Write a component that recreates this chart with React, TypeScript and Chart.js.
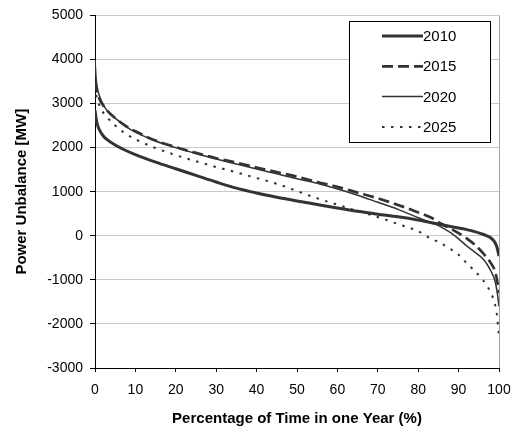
import React, { useEffect, useRef } from "react";
import { Chart, registerables } from "chart.js";

Chart.register(...registerables);

const percentTime = [0, 0.3, 0.6, 1, 2, 3, 5, 7.5, 10, 15, 20, 25, 30, 35, 40, 45, 50, 55, 60, 65, 70, 75, 80, 83, 85, 88, 90, 92, 94, 96, 97, 98, 99, 99.5, 100];

const y2010 = [2850, 2650, 2520, 2420, 2270, 2180, 2060, 1940, 1840, 1670, 1520, 1370, 1220, 1080, 970, 875, 790, 710, 630, 555, 490, 430, 355, 300, 265, 210, 175, 140, 95, 35, 0, -50, -150, -260, -460];
const y2015 = [3500, 3350, 3230, 3120, 2960, 2840, 2670, 2500, 2370, 2160, 2010, 1880, 1760, 1660, 1550, 1445, 1340, 1220, 1110, 980, 850, 700, 530, 420, 310, 160, 60, -60, -200, -390, -500, -620, -800, -1000, -1300];
const y2020 = [4000, 3550, 3350, 3200, 2980, 2840, 2670, 2490, 2350, 2150, 2000, 1865, 1740, 1630, 1515, 1405, 1295, 1190, 1060, 920, 760, 600, 410, 300, 230, 70, -70, -230, -370, -520, -640, -800, -1020, -1250, -1600];
const y2025 = [3400, 3200, 3080, 2980, 2800, 2690, 2500, 2320, 2190, 1990, 1830, 1690, 1560, 1440, 1310, 1180, 1015, 850, 705, 560, 425, 265, 105, -60, -140, -300, -430, -620, -800, -1000, -1130, -1300, -1550, -1800, -2300];

const seriesNames = ["2010", "2015", "2020", "2025"];
const xTitle = "Percentage of Time in one Year (%)";
const yTitle = "Power Unbalance [MW]";

const FONT = "'Liberation Sans', Arial, sans-serif";
const LINE = "#333333";

const toPoints = (ys: number[]) => percentTime.map((x, i) => ({ x, y: ys[i] }));

const legendPlugin = {
  id: "boxLegend",
  afterDraw(chart: any) {
    const ctx = chart.ctx;
    const left = 349, top = 21, w = 141, h = 121;
    ctx.save();
    ctx.fillStyle = "#ffffff";
    ctx.fillRect(left, top, w, h);
    ctx.strokeStyle = "#000000";
    ctx.lineWidth = 1;
    ctx.setLineDash([]);
    ctx.strokeRect(left + 0.5, top + 0.5, w, h);
    chart.data.datasets.forEach((ds: any, i: number) => {
      const y = 36 + i * 30.3;
      ctx.beginPath();
      ctx.strokeStyle = ds.borderColor;
      ctx.lineWidth = ds.borderWidth;
      ctx.setLineDash(ds.borderDash || []);
      ctx.moveTo(382, y);
      ctx.lineTo(423, y);
      ctx.stroke();
      ctx.setLineDash([]);
      ctx.fillStyle = "#000000";
      ctx.font = `15px ${FONT}`;
      ctx.textAlign = "left";
      ctx.textBaseline = "middle";
      ctx.fillText(ds.label, 423, y + 1);
    });
    ctx.restore();
  },
};

export default function App() {
  const ref = useRef<HTMLCanvasElement>(null);
  useEffect(() => {
    if (!ref.current) return;
    const styles = [
      { width: 3, dash: [] as number[] },
      { width: 2.7, dash: [11, 5] },
      { width: 1.5, dash: [] as number[] },
      { width: 2, dash: [2.5, 6.5] },
    ];
    const all = [y2010, y2015, y2020, y2025];
    const chart = new Chart(ref.current, {
      type: "line",
      data: {
        datasets: all.map((ys, i) => ({
          label: seriesNames[i],
          data: toPoints(ys),
          borderColor: LINE,
          borderWidth: styles[i].width,
          borderDash: styles[i].dash,
          pointRadius: 0,
          fill: false,
          cubicInterpolationMode: "monotone" as const,
        })),
      },
      options: {
        animation: false,
        responsive: false,
        devicePixelRatio: 1,
        layout: { padding: { left: 0, right: 18, top: 14, bottom: 0 } },
        plugins: { legend: { display: false }, tooltip: { enabled: false } },
        scales: {
          x: {
            type: "linear",
            min: 0,
            max: 100,
            afterFit: (s: any) => { s.height = 62; s.paddingRight = 0; s.paddingLeft = 0; },
            ticks: { stepSize: 10, color: "#000", font: { family: FONT, size: 14 }, padding: 10, maxRotation: 0 },
            grid: {
              color: (c: any) => (c.tick && c.tick.value === 100 ? "#a0a0a0" : "rgba(0,0,0,0)"),
              tickColor: "#000",
              tickLength: 4,
            },
            border: { color: "#000", width: 1 },
            title: { display: true, text: xTitle, color: "#000", font: { family: FONT, size: 15, weight: "bold" }, padding: { top: 0, bottom: 2 } },
          },
          y: {
            min: -3000,
            max: 5000,
            afterFit: (s: any) => { s.width = 95; },
            ticks: { stepSize: 1000, color: "#000", font: { family: FONT, size: 14 }, padding: 7, callback: (v: any) => String(v) },
            grid: { color: "#c8c8c8", tickColor: "#000", tickLength: 5 },
            border: { color: "#000", width: 1 },
            title: { display: true, text: yTitle, color: "#000", font: { family: FONT, size: 15, weight: "bold" }, padding: { top: 13, bottom: 0 } },
          },
        },
      },
      plugins: [legendPlugin],
    });
    return () => chart.destroy();
  }, []);
  return (
    <div style={{ position: "fixed", left: 0, top: 0, width: 517, height: 430, background: "#fff" }}>
      <canvas ref={ref} width={517} height={430} />
    </div>
  );
}
